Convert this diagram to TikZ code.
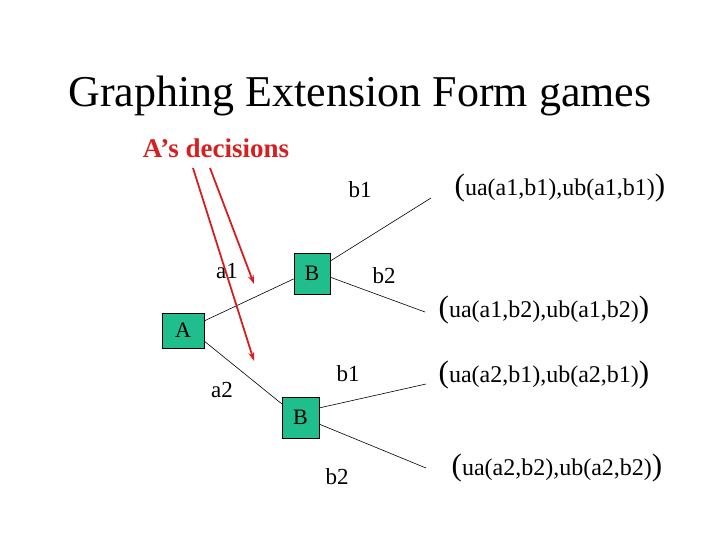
\documentclass[tikz,border=0pt]{standalone}
\usepackage{fontspec}
\setmainfont{Liberation Serif}
\usetikzlibrary{calc,arrows.meta}
\definecolor{boxgreen}{RGB}{32,190,140}
\definecolor{decred}{RGB}{214,32,32}
\tikzset{
  gamebox/.style={draw=black, fill=boxgreen, line width=0.8pt, inner sep=0pt, font=\fontsize{22}{24}\selectfont},
  lbl/.style={font=\fontsize{23}{25}\selectfont, inner sep=0pt},
  payoff/.style={font=\fontsize{24}{26}\selectfont, inner sep=0pt},
  branch/.style={draw=black, line width=0.6pt},
  decarrow/.style={draw=decred, line width=1.8pt, -{Stealth[length=9pt,width=6pt]}},
}
\newcommand{\bigp}[1]{{\fontsize{31}{31}\selectfont #1}}
\begin{document}
\begin{tikzpicture}[x=1pt,y=-1pt]
\useasboundingbox (0,0) rectangle (720,540);
\fill[white] (0,0) rectangle (720,540);
\node[font=\fontsize{44}{48}\selectfont, inner sep=0pt] (title) at (360,96) {Graphing Extension Form games};
\node[font=\fontsize{27}{29}\selectfont\bfseries, text=decred, inner sep=0pt] (dec) at (216,148) {A’s decisions};

\node[gamebox, minimum width=42pt, minimum height=35pt] (A) at (183,330.5) {A};
\node[gamebox, minimum width=36pt, minimum height=41pt] (B1) at (312,273.5) {B};
\node[gamebox, minimum width=37pt, minimum height=41pt] (B2) at (300.5,417.5) {B};

\coordinate (e11) at (431,198);
\coordinate (e12) at (425,312);
\coordinate (e21) at (426,384);
\coordinate (e22) at (426,468);

\draw[branch] ($(A.north east)!0.23!(A.south east)$) -- ($(B1.north west)!0.63!(B1.south west)$);
\draw[branch] ($(A.north east)!0.8!(A.south east)$) -- ($(B2.north west)!0.17!(B2.south west)$);
\draw[branch] ($(B1.north east)!0.2!(B1.south east)$) -- (e11);
\draw[branch] ($(B1.north east)!0.59!(B1.south east)$) -- (e12);
\draw[branch] ($(B2.north east)!0.27!(B2.south east)$) -- (e21);
\draw[branch] ($(B2.north east)!0.66!(B2.south east)$) -- (e22);

\node[lbl] (la1) at (227,271) {a1};
\node[lbl] (la2) at (222,390) {a2};
\node[lbl] (lb11) at (360,190) {b1};
\node[lbl] (lb12) at (384,276) {b2};
\node[lbl] (lb21) at (348,374) {b1};
\node[lbl] (lb22) at (337,477) {b2};

\node[payoff] (p11) at (560,188) {\bigp{(}ua(a1,b1),ub(a1,b1)\bigp{)}};
\node[payoff] (p12) at (544,310) {\bigp{(}ua(a1,b2),ub(a1,b2)\bigp{)}};
\node[payoff] (p21) at (544,375) {\bigp{(}ua(a2,b1),ub(a2,b1)\bigp{)}};
\node[payoff] (p22) at (557,468) {\bigp{(}ua(a2,b2),ub(a2,b2)\bigp{)}};

\coordinate (s1) at (193,168);
\coordinate (t1) at (254,361);
\coordinate (s2) at (210,168);
\coordinate (t2) at (254,284);
\draw[decarrow] (s1) -- (t1);
\draw[decarrow] (s2) -- (t2);
\end{tikzpicture}
\end{document}
